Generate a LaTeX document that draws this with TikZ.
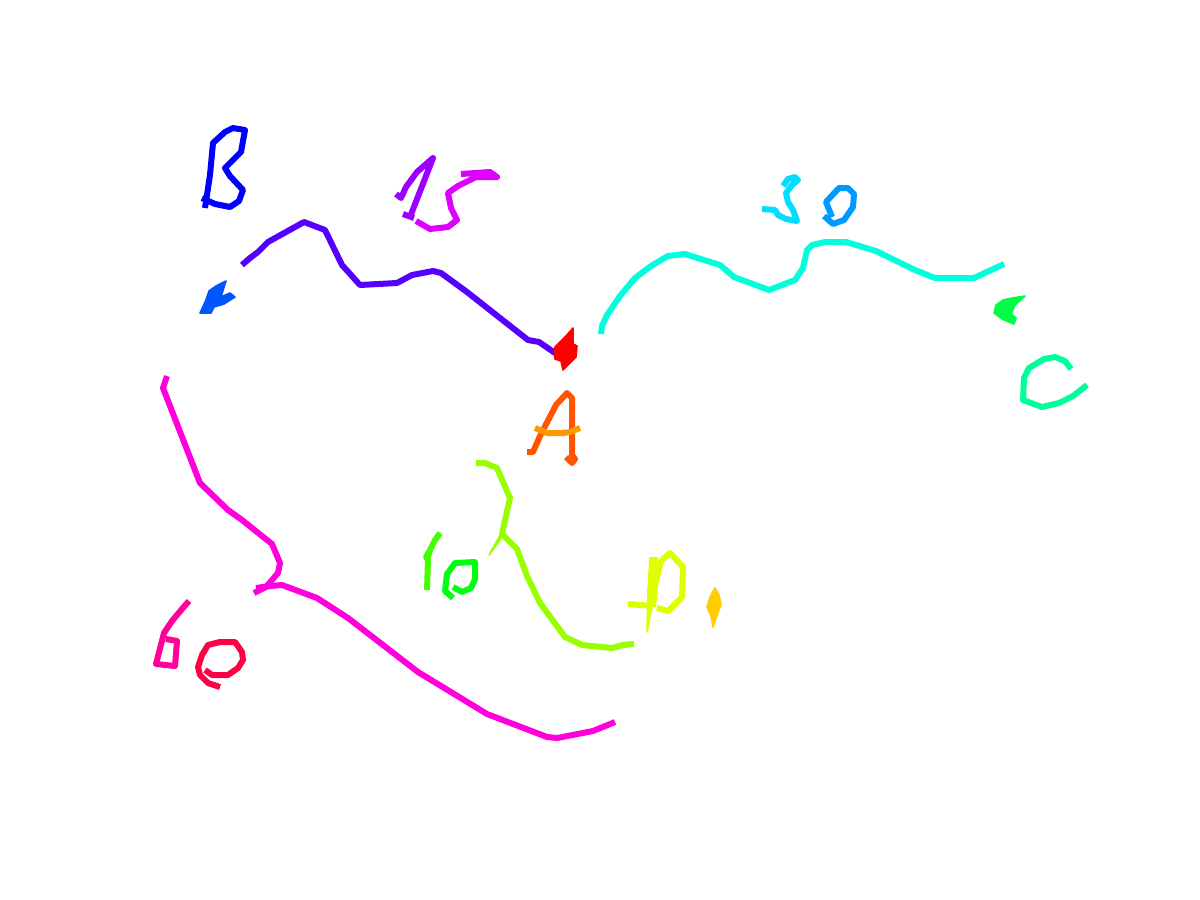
\documentclass[tikz,border=0pt]{standalone}
\begin{document}
\begin{tikzpicture}[x=0.5pt,y=-0.5pt,
  stroke/.style={draw=#1,line width=3pt,line join=round,line cap=butt},
  blob/.style={fill=#1,draw=#1,line width=0.8pt,line join=round}]
\definecolor{cRed}{HTML}{FF0000}
\definecolor{cA}{HTML}{FF5500}
\definecolor{cAbar}{HTML}{FF9900}
\definecolor{cGold}{HTML}{FFCC00}
\definecolor{cYel}{HTML}{DDFF00}
\definecolor{cChar}{HTML}{99FF00}
\definecolor{cOneT}{HTML}{44FF00}
\definecolor{cZeroT}{HTML}{00FF11}
\definecolor{cGArr}{HTML}{00FF44}
\definecolor{cC}{HTML}{00FF99}
\definecolor{cCyan}{HTML}{00FFDD}
\definecolor{cThree}{HTML}{00DDFF}
\definecolor{cZeroH}{HTML}{0099FF}
\definecolor{cBArr}{HTML}{0055FF}
\definecolor{cB}{HTML}{0000FF}
\definecolor{cInd}{HTML}{5500FF}
\definecolor{cOneF}{HTML}{9900FF}
\definecolor{cFive}{HTML}{DD00FF}
\definecolor{cMag}{HTML}{FF00DD}
\definecolor{cSix}{HTML}{FF0099}
\definecolor{cZeroS}{HTML}{FF0044}
\useasboundingbox (0,0) rectangle (1200,900);
% B
\draw[stroke=cB] (205,208) -- (210,175) -- (213,143) -- (225,132) -- (233,128) -- (245,130) -- (241,152) -- (225,168) -- (230,176) -- (243,190) -- (239,201) -- (230,207) -- (215,204) -- (202,198);
% 15
\draw[stroke=cOneF] (396,194) -- (401,198) -- (406,187) -- (417,172) -- (433,158) -- (410,217);
\draw[stroke=cOneF] (403,214) -- (414,218);
\draw[stroke=cFive] (461,174) -- (490,172) -- (497,177) -- (476,177) -- (458,186) -- (448,193) -- (451,208) -- (457,220) -- (448,227) -- (430,229) -- (416,221);
% indigo curve
\draw[stroke=cInd] (242,265) -- (250,258) -- (258,252) -- (268,242) -- (304,222) -- (325,230) -- (342,265) -- (360,285) -- (397,283) -- (412,275) -- (433,271) -- (441,273) -- (467,292) -- (500,318) -- (528,340) -- (539,342) -- (558,355);
% red arrowhead
\filldraw[blob=cRed] (555,347) -- (566,336) -- (573,328) -- (573,344) -- (577,346) -- (576,357) -- (563,370) -- (561,361) -- (555,359) -- cycle;
% blue arrowhead
\filldraw[blob=cBArr] (200,313) -- (206,300) -- (209,291) -- (216,286) -- (226,281) -- (221,297) -- (230,293) -- (235,297) -- (224,304) -- (214,307) -- (211,313) -- cycle;
% 30
\draw[stroke=cThree] (762,209) -- (775,210) -- (778,215) -- (786,219) -- (797,221) -- (793,210) -- (788,202) -- (786,193) -- (792,185) -- (798,180) -- (795,177) -- (788,179) -- (783,186);
\draw[stroke=cZeroH] (824,216) -- (833,224) -- (844,220) -- (853,207) -- (854,194) -- (848,188) -- (839,188) -- (826,202) -- (832,217);
% cyan curve
\draw[stroke=cCyan] (601,334) -- (602,326) -- (607,315) -- (620,296) -- (635,278) -- (651,266) -- (668,256) -- (685,254) -- (720,265) -- (734,277) -- (769,290) -- (795,280) -- (803,268) -- (807,250) -- (812,245) -- (825,242) -- (846,242) -- (876,251) -- (915,270) -- (935,278) -- (974,278) -- (1004,264);
% green arrowhead
\filldraw[blob=cGArr] (994,313) -- (996,305) -- (1003,300) -- (1012,298) -- (1025,296) -- (1015,305) -- (1011,314) -- (1016,318) -- (1014,324) -- (1004,320) -- (998,316) -- cycle;
% C
\draw[stroke=cC] (1071,369) -- (1065,361) -- (1055,357) -- (1044,359) -- (1029,368) -- (1024,378) -- (1023,400) -- (1042,407) -- (1059,403) -- (1073,396) -- (1087,385);
% A
\draw[stroke=cA] (527,452) -- (533,452) -- (540,436) -- (556,405) -- (567,393) -- (572,398) -- (572,455) -- (575,459) -- (572,463) -- (566,457);
\draw[stroke=cAbar] (535,428) -- (547,433) -- (563,433) -- (570,432) -- (580,428);
% chartreuse curve
\draw[stroke=cChar] (476,463) -- (485,463) -- (497,468) -- (510,498) -- (502,534) -- (517,549) -- (527,576) -- (540,603) -- (565,637) -- (582,645) -- (612,648) -- (623,645) -- (634,644);
\filldraw[blob=cChar] (502,532) -- (489,555) -- (500,540) -- cycle;
% 10
\draw[stroke=cOneT] (440,533) -- (435,540) -- (430,550) -- (426,557) -- (428,560) -- (427,590);
\filldraw[blob=cOneT] (440,533) -- (432,545) -- (429,560) -- (433,548) -- cycle;
\draw[stroke=cZeroT] (453,598) -- (445,591) -- (447,574) -- (455,563) -- (475,562) -- (475,579) -- (471,588) -- (462,592) -- (453,587);
% P.
\draw[stroke=cYel] (628,604) -- (653,606);
\draw[stroke=cYel] (657,608) -- (668,611) -- (682,597) -- (683,567) -- (670,553) -- (661,561) -- (655,585) -- (653,607);
\filldraw[blob=cYel] (650,558) -- (657,558) -- (655,590) -- (647,632) -- (648,590) -- cycle;
\filldraw[blob=cGold] (715,588) -- (719,595) -- (721,605) -- (717,615) -- (713,627) -- (711,616) -- (707,607) -- (710,597) -- cycle;
% magenta curve
\draw[stroke=cMag] (167,376) -- (163,388) -- (200,483) -- (228,510) -- (242,520) -- (272,544) -- (280,563) -- (278,573) -- (266,587) -- (254,593);
\draw[stroke=cMag] (256,588) -- (270,586) -- (282,585) -- (317,598) -- (348,618) -- (418,672) -- (487,714) -- (547,737) -- (557,738) -- (593,731) -- (615,722);
% 60
\draw[stroke=cSix] (189,601) -- (182,609) -- (172,621) -- (164,633) -- (156,664) -- (175,666) -- (177,641) -- (166,639);
\draw[stroke=cZeroS] (220,687) -- (208,683) -- (200,675) -- (198,667) -- (202,655) -- (208,645) -- (220,642) -- (235,642) -- (242,652) -- (243,660) -- (238,668) -- (228,675) -- (212,675) -- (205,670);
\end{tikzpicture}
\end{document}
